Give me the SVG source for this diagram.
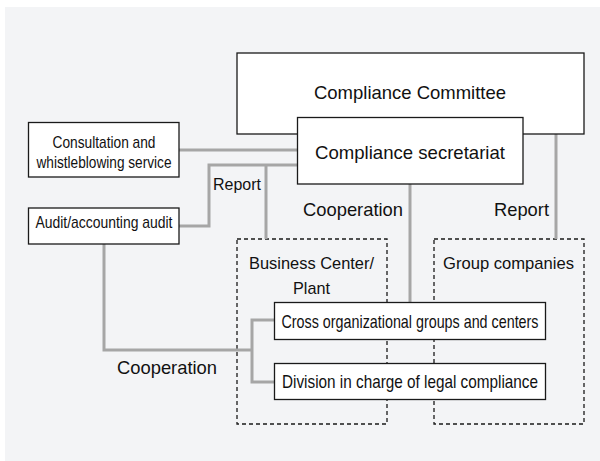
<svg xmlns="http://www.w3.org/2000/svg" width="600" height="461" viewBox="0 0 600 461">
  <style>
    .box { fill: #ffffff; stroke: #1a1a1a; stroke-width: 1.3; }
    .area { fill: none; stroke: #1a1a1a; stroke-width: 1.3; stroke-dasharray: 4 3; }
    .link { fill: none; stroke: #a6a6a6; stroke-width: 3; }
    text { font-family: "Liberation Sans", Arial, sans-serif; fill: #111111; text-anchor: middle; }
    .big { font-size: 18.5px; }
    .mid { font-size: 17px; }
    .small { font-size: 17px; }
    .narrow { font-size: 18.5px; }
  </style>

  <!-- canvas -->
  <rect x="5" y="7" width="595" height="454" fill="#f3f4f6"/>

  <!-- organisational areas -->
  <g id="business-center">
    <rect class="area" x="237" y="239" width="150" height="185"/>
    <text class="mid" x="311.5" y="269" textLength="125" lengthAdjust="spacingAndGlyphs">Business Center/</text>
    <text class="mid" x="311.5" y="293.5" textLength="37" lengthAdjust="spacingAndGlyphs">Plant</text>
  </g>
  <g id="group-companies">
    <rect class="area" x="434" y="239" width="150" height="185"/>
    <text class="mid" x="508.5" y="269" textLength="131" lengthAdjust="spacingAndGlyphs">Group companies</text>
  </g>

  <!-- connectors -->
  <g id="connectors">
    <path class="link" d="M179,150 H298"/>
    <path class="link" d="M179,226 H209 V165 H298 M266,165 V239"/>
    <path class="link" d="M410,184 V303"/>
    <path class="link" d="M556,134 V239"/>
    <path class="link" d="M104,244 V350 H252 M275,320 H252 V382 H275"/>
    <text class="small" x="237" y="190" textLength="48" lengthAdjust="spacingAndGlyphs">Report</text>
    <text class="big" x="353" y="216" textLength="100" lengthAdjust="spacingAndGlyphs">Cooperation</text>
    <text class="big" x="521.5" y="216" textLength="55" lengthAdjust="spacingAndGlyphs">Report</text>
    <text class="big" x="167" y="374" textLength="100" lengthAdjust="spacingAndGlyphs">Cooperation</text>
  </g>

  <g id="compliance-committee">
    <rect class="box" x="237" y="53" width="347" height="81"/>
    <text class="big" x="410" y="99" textLength="192" lengthAdjust="spacingAndGlyphs">Compliance Committee</text>
  </g>
  <g id="compliance-secretariat">
    <rect class="box" x="297.5" y="117.5" width="225.5" height="66.5"/>
    <text class="big" x="410" y="158.5" textLength="190" lengthAdjust="spacingAndGlyphs">Compliance secretariat</text>
  </g>
  <g id="consultation-service">
    <rect class="box" x="28.5" y="122.5" width="150.5" height="54.5"/>
    <text class="small" x="104" y="147.5" textLength="103" lengthAdjust="spacingAndGlyphs">Consultation and</text>
    <text class="small" x="104" y="167.5" textLength="135" lengthAdjust="spacingAndGlyphs">whistleblowing service</text>
  </g>
  <g id="audit">
    <rect class="box" x="28.5" y="208" width="150.5" height="36"/>
    <text class="small" x="104" y="227.5" textLength="137" lengthAdjust="spacingAndGlyphs">Audit/accounting audit</text>
  </g>
  <g id="cross-organizational">
    <rect class="box" x="274.5" y="302.5" width="271" height="37"/>
    <text class="narrow" x="410" y="327.5" textLength="257" lengthAdjust="spacingAndGlyphs">Cross organizational groups and centers</text>
  </g>
  <g id="legal-division">
    <rect class="box" x="274.5" y="363.5" width="271" height="36"/>
    <text class="narrow" x="410" y="388" textLength="256" lengthAdjust="spacingAndGlyphs">Division in charge of legal compliance</text>
  </g>
</svg>
